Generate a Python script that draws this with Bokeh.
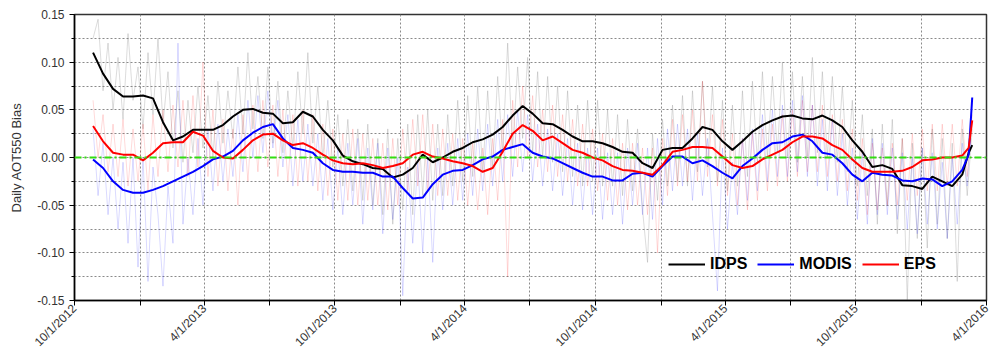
import math
import pandas as pd
from bokeh.plotting import figure
from bokeh.models import (FixedTicker, NumeralTickFormatter, CustomJSTickFormatter,
                          Span, Legend, LegendItem, Range1d)
from bokeh.embed import file_html
from bokeh.resources import INLINE

# ---------------- data ----------------
# smoothed series: 14-day grid from 2012-10-27, plus two final points
smooth_dates = list(pd.date_range("2012-10-27", periods=88, freq="14D")) + \
    [pd.Timestamp("2016-03-07"), pd.Timestamp("2016-03-12")]

idps = [0.110, 0.088, 0.072, 0.064, 0.064, 0.065, 0.062, 0.037, 0.018, 0.022,
        0.029, 0.029, 0.029, 0.034, 0.043, 0.050, 0.051, 0.047, 0.046, 0.036,
        0.037, 0.048, 0.043, 0.029, 0.018, 0.002, -0.004, -0.007, -0.011, -0.012,
        -0.021, -0.018, -0.011, 0.003, -0.005, 0.000, 0.006, 0.010, 0.016, 0.019,
        0.024, 0.032, 0.044, 0.054, 0.046, 0.036, 0.035, 0.029, 0.022, 0.017,
        0.017, 0.015, 0.011, 0.006, 0.005, -0.006, -0.011, 0.008, 0.010, 0.010,
        0.020, 0.032, 0.029, 0.017, 0.008, 0.017, 0.027, 0.034, 0.039, 0.043,
        0.044, 0.041, 0.040, 0.044, 0.039, 0.032, 0.018, 0.006, -0.010, -0.008,
        -0.012, -0.029, -0.030, -0.033, -0.020, -0.025, -0.030, -0.018,
        0.005, 0.013]

modis = [-0.002, -0.011, -0.025, -0.034, -0.037, -0.037, -0.034, -0.030, -0.025, -0.020,
         -0.015, -0.009, -0.002, 0.001, 0.007, 0.018, 0.026, 0.032, 0.035, 0.020,
         0.010, 0.008, 0.005, -0.006, -0.013, -0.015, -0.015, -0.016, -0.016, -0.020,
         -0.020, -0.032, -0.043, -0.042, -0.028, -0.018, -0.014, -0.013, -0.008, -0.002,
         0.001, 0.008, 0.011, 0.014, 0.005, 0.001, -0.001, -0.006, -0.011, -0.016,
         -0.020, -0.020, -0.024, -0.024, -0.017, -0.016, -0.020, -0.009, 0.001, 0.001,
         -0.006, -0.003, -0.009, -0.016, -0.022, -0.009, -0.001, 0.008, 0.015, 0.016,
         0.022, 0.024, 0.017, 0.005, 0.003, -0.006, -0.018, -0.025, -0.016, -0.018,
         -0.019, -0.024, -0.025, -0.022, -0.023, -0.030, -0.025, -0.013,
         0.003, 0.063]

eps = [0.033, 0.017, 0.005, 0.003, 0.003, -0.003, 0.005, 0.015, 0.016, 0.016,
       0.027, 0.023, 0.007, 0.000, -0.001, 0.008, 0.018, 0.024, 0.025, 0.018,
       0.013, 0.015, 0.010, 0.003, -0.003, -0.006, -0.007, -0.006, -0.008, -0.011,
       -0.009, -0.006, 0.003, 0.006, 0.001, -0.001, -0.004, -0.006, -0.009, -0.015,
       -0.011, 0.006, 0.025, 0.034, 0.028, 0.018, 0.022, 0.015, 0.008, 0.005,
       0.000, -0.003, -0.009, -0.013, -0.014, -0.016, -0.018, -0.008, 0.006, 0.008,
       0.011, 0.011, 0.010, 0.001, -0.008, -0.011, -0.009, -0.002, 0.003, 0.008,
       0.016, 0.022, 0.022, 0.020, 0.013, 0.008, -0.002, -0.011, -0.015, -0.015,
       -0.015, -0.014, -0.010, -0.003, -0.002, 0.000, 0.000, 0.002,
       0.010, 0.039]

# daily (noisy) series, sampled weekly from 2012-10-27
daily_dates = pd.date_range("2012-10-27", periods=177, freq="7D")

idps_daily = [0.125, 0.145, 0.070, 0.120, 0.050, 0.105, 0.040, 0.130, 0.060, 0.095,
              0.030, 0.110, 0.045, 0.125, 0.035, 0.090, 0.010, 0.070, -0.005, 0.060,
              0.005, 0.075, 0.010, 0.065, 0.000, 0.080, 0.015, 0.070, 0.020, 0.095,
              0.025, 0.110, 0.030, 0.085, 0.020, 0.095, 0.015, 0.080, 0.005, 0.070,
              0.010, 0.090, 0.025, 0.110, 0.015, 0.075, 0.000, 0.060, -0.010, 0.045,
              -0.030, 0.040, -0.035, 0.030, -0.045, 0.035, -0.050, 0.020, -0.060, 0.030,
              -0.070, 0.020, -0.055, 0.035, -0.060, 0.045, -0.040, 0.050, -0.045, 0.035,
              -0.040, 0.045, -0.030, 0.060, -0.025, 0.065, -0.020, 0.075, -0.015, 0.070,
              -0.010, 0.085, 0.005, 0.120, 0.010, 0.095, 0.020, 0.105, 0.005, 0.090,
              0.000, 0.085, -0.005, 0.075, -0.015, 0.070, -0.020, 0.055, -0.030, 0.060,
              -0.025, 0.060, -0.030, 0.050, -0.030, 0.045, -0.040, 0.040, -0.035, 0.030,
              -0.055, -0.110, 0.025, -0.045, 0.040, -0.030, 0.055, -0.025, 0.065, -0.030,
              0.070, -0.015, 0.080, -0.010, 0.075, -0.025, 0.060, -0.035, 0.055, -0.030,
              0.070, -0.020, 0.080, -0.005, 0.090, 0.000, 0.085, 0.005, 0.100, 0.000,
              0.090, -0.005, 0.085, 0.000, 0.105, 0.005, 0.090, 0.000, 0.085, -0.005,
              0.075, -0.015, 0.060, -0.030, 0.045, -0.040, 0.030, -0.070, 0.035, -0.050,
              0.040, -0.080, 0.020, -0.150, 0.015, -0.085, 0.010, -0.095, 0.030, -0.070,
              0.020, -0.085, 0.015, -0.130, 0.030, -0.040, 0.030]

modis_daily = [0.030, -0.040, 0.015, -0.060, 0.000, -0.075, -0.005, -0.090, 0.000, -0.115,
               0.000, -0.130, -0.010, -0.060, -0.135, -0.030, -0.090, 0.120, -0.070, 0.000,
               -0.060, 0.020, -0.050, 0.030, -0.035, 0.035, -0.025, 0.030, -0.020, 0.045,
               -0.015, 0.060, 0.000, 0.065, 0.005, 0.070, 0.010, 0.060, -0.010, 0.045,
               -0.030, 0.040, -0.025, 0.035, -0.030, 0.025, -0.045, 0.020, -0.055, 0.010,
               -0.060, 0.015, -0.050, 0.020, -0.070, 0.010, -0.055, 0.015, -0.080, 0.010,
               -0.065, 0.000, -0.145, -0.010, -0.090, -0.005, -0.100, 0.000, -0.110, 0.010,
               -0.055, 0.015, -0.050, 0.020, -0.045, 0.025, -0.040, 0.030, -0.035, 0.035,
               -0.030, 0.040, -0.025, 0.045, -0.020, 0.050, -0.015, 0.045, -0.025, 0.035,
               -0.030, 0.030, -0.035, 0.025, -0.040, 0.020, -0.050, 0.015, -0.055, 0.010,
               -0.060, 0.010, -0.065, 0.005, -0.060, 0.005, -0.070, 0.010, -0.050, 0.015,
               -0.060, 0.010, -0.065, 0.020, -0.050, 0.030, -0.035, 0.035, -0.030, 0.030,
               -0.045, 0.025, -0.040, 0.020, -0.060, -0.140, 0.010, -0.075, -0.005, -0.060,
               0.020, -0.045, 0.030, -0.035, 0.045, -0.025, 0.050, -0.020, 0.055, -0.020,
               0.060, -0.015, 0.065, -0.020, 0.055, -0.030, 0.040, -0.035, 0.040, -0.040,
               0.025, -0.050, 0.010, -0.065, 0.005, -0.070, 0.020, -0.060, 0.015, -0.060,
               0.010, -0.065, 0.005, -0.075, 0.000, -0.080, 0.010, -0.070, 0.005, -0.075,
               -0.005, -0.085, 0.000, -0.070, 0.015, -0.030, 0.060]

eps_daily = [0.060, 0.000, 0.045, -0.015, 0.035, -0.020, 0.040, -0.030, 0.030, -0.025,
             0.035, -0.035, 0.045, -0.020, 0.050, -0.015, 0.055, -0.010, 0.060, -0.020,
             0.065, -0.010, 0.100, -0.020, 0.050, -0.030, 0.040, -0.035, 0.030, -0.050,
             0.045, -0.025, 0.055, -0.015, 0.060, -0.010, 0.055, -0.020, 0.050, -0.025,
             0.045, -0.030, 0.050, -0.025, 0.045, -0.035, 0.035, -0.040, 0.030, -0.045,
             0.025, -0.045, 0.030, -0.050, 0.025, -0.045, 0.020, -0.050, 0.015, -0.055,
             0.020, -0.050, 0.030, -0.035, 0.040, -0.030, 0.045, -0.035, 0.035, -0.040,
             0.030, -0.040, 0.025, -0.045, 0.020, -0.050, 0.015, -0.055, 0.010, -0.060,
             0.020, -0.045, 0.040, -0.125, 0.060, -0.010, 0.075, 0.000, 0.065, -0.010,
             0.050, -0.015, 0.055, -0.020, 0.045, -0.025, 0.040, -0.030, 0.035, -0.030,
             0.030, -0.035, 0.025, -0.045, 0.020, -0.050, 0.015, -0.055, 0.015, -0.050,
             0.010, -0.060, 0.010, -0.100, 0.020, -0.040, 0.040, -0.030, 0.045, -0.025,
             0.050, -0.025, 0.080, -0.020, 0.045, -0.030, 0.040, -0.040, 0.025, -0.050,
             0.020, -0.055, 0.025, -0.045, 0.030, -0.035, 0.035, -0.030, 0.045, -0.025,
             0.050, -0.020, 0.060, -0.015, 0.055, -0.015, 0.055, -0.020, 0.045, -0.025,
             0.040, -0.035, 0.030, -0.045, 0.020, -0.060, 0.015, -0.055, 0.010, -0.050,
             0.015, -0.050, 0.020, -0.045, 0.025, -0.040, 0.030, -0.035, 0.035, -0.035,
             0.035, -0.030, 0.035, -0.030, 0.040, -0.020, 0.045]

x_tick_dates = ["2012-10-01", "2013-04-01", "2013-10-01", "2014-04-01",
                "2014-10-01", "2015-04-01", "2015-10-01", "2016-04-01"]
x_minor_dates = ["2013-01-01", "2013-07-01", "2014-01-01", "2014-07-01",
                 "2015-01-01", "2015-07-01", "2016-01-01"]
y_ticks = [-0.15, -0.10, -0.05, 0.00, 0.05, 0.10, 0.15]
y_minor = [-0.125, -0.075, -0.025, 0.025, 0.075, 0.125]
series_names = ["IDPS", "MODIS", "EPS"]

# ---------------- plot ----------------
def ms(d):
    return pd.Timestamp(d).value / 1e6

FONT = "Liberation Sans"

p = figure(width=994, height=357, x_axis_type="datetime",
           x_range=Range1d(ms(x_tick_dates[0]), ms(x_tick_dates[-1])),
           y_range=Range1d(-0.15, 0.15),
           output_backend="svg", toolbar_location=None,
           min_border_left=74, min_border_right=8, min_border_top=14, min_border_bottom=56)

p.outline_line_color = "#333333"
p.outline_line_width = 1.5
p.background_fill_color = "white"
p.border_fill_color = "white"

# grids
all_x = sorted([ms(d) for d in x_tick_dates] + [ms(d) for d in x_minor_dates])
p.xgrid.ticker = FixedTicker(ticks=all_x)
p.ygrid.ticker = FixedTicker(ticks=sorted(y_ticks + y_minor))
for g in (p.xgrid, p.ygrid):
    g.grid_line_color = "#8a8a8a"
    g.grid_line_dash = "2 2"
    g.grid_line_width = 1

# axes
p.xaxis.ticker = FixedTicker(ticks=[ms(d) for d in x_tick_dates],
                             minor_ticks=[ms(d) for d in x_minor_dates])
p.xaxis.formatter = CustomJSTickFormatter(code="""
    const d = new Date(tick);
    return (d.getUTCMonth() + 1) + "/" + d.getUTCDate() + "/" + d.getUTCFullYear();
""")
p.xaxis.major_label_orientation = math.pi / 4
p.xaxis.major_label_standoff = 1
p.yaxis.ticker = FixedTicker(ticks=y_ticks, minor_ticks=y_minor)
p.yaxis.formatter = NumeralTickFormatter(format="0.00")
p.yaxis.axis_label = "Daily AOT550 Bias"

for ax in (p.xaxis[0], p.yaxis[0]):
    ax.axis_line_color = "black"
    ax.axis_line_width = 1.5
    ax.major_tick_line_color = "black"
    ax.minor_tick_line_color = "black"
    ax.major_tick_in = 0
    ax.major_tick_out = 5
    ax.minor_tick_in = 0
    ax.major_label_text_font = FONT
    ax.major_label_text_font_size = "12px"
    ax.major_label_text_color = "#333333"
    ax.axis_label_text_font = FONT
    ax.axis_label_text_font_size = "13px"
    ax.axis_label_text_font_style = "normal"
    ax.axis_label_text_color = "#333333"
p.xaxis.minor_tick_out = 5
p.yaxis.minor_tick_out = 3
p.yaxis.axis_label_standoff = 10

# faint daily lines
p.line(list(daily_dates), idps_daily, line_color="#8c8c8c", line_alpha=0.3, line_width=1)
p.line(list(daily_dates), eps_daily, line_color="#ff0000", line_alpha=0.15, line_width=1)
p.line(list(daily_dates), modis_daily, line_color="#0000ff", line_alpha=0.15, line_width=1)

# zero line
p.add_layout(Span(location=0, dimension="width", line_color="#33dd11",
                  line_width=2, line_dash="7 3 2 3"))

# smoothed lines
r_idps = p.line(smooth_dates, idps, line_color="black", line_width=2)
r_modis = p.line(smooth_dates, modis, line_color="#0000ff", line_width=2)
r_eps = p.line(smooth_dates, eps, line_color="#ff0000", line_width=2)

legend = Legend(items=[LegendItem(label=series_names[0], renderers=[r_idps]),
                       LegendItem(label=series_names[1], renderers=[r_modis]),
                       LegendItem(label=series_names[2], renderers=[r_eps])],
                orientation="horizontal", location=(594, 27),
                background_fill_alpha=0, border_line_alpha=0,
                label_text_font=FONT, label_text_font_style="bold",
                label_text_font_size="16px", label_text_color="black",
                glyph_width=37, glyph_height=18, label_height=18,
                label_standoff=5, spacing=10, padding=0, margin=0)
p.add_layout(legend)

open("out.html", "w").write(file_html(p, INLINE))
